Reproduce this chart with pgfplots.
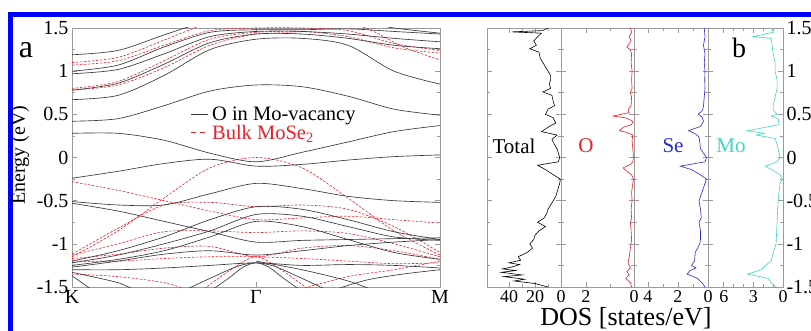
\documentclass[border=0pt]{standalone}
\usepackage{pgfplots}
\pgfplotsset{compat=1.18}
\usepackage{fontspec}
\setmainfont{Liberation Serif}
\definecolor{bandblk}{HTML}{383838}
\definecolor{bulkred}{HTML}{E8202A}
\definecolor{seblue}{HTML}{2B2BC8}
\definecolor{mocyan}{HTML}{3FD6C4}
\definecolor{framegray}{HTML}{9A9A9A}
\begin{document}
\begin{tikzpicture}
\useasboundingbox (0pt,0pt) rectangle (811pt,-331pt);
\fill[white] (0pt,0pt) rectangle (811pt,-331pt);
\draw[blue, line width=5pt] (10.8pt,-340pt) -- (10.8pt,-14.5pt) -- (820pt,-14.5pt);
\pgfplotsset{
  myaxis/.style={
    scale only axis, height=259pt, ymin=-1.5, ymax=1.5,
    axis line style={framegray, line width=0.8pt},
    tick style={framegray, line width=0.6pt},
    tick align=inside,
    major tick length=5pt, minor tick length=3pt,
    ytick={-1.5,-1,-0.5,0,0.5,1,1.5}, minor y tick num=1,
    ticklabel style={font=\fontsize{20}{22}\selectfont},
    /pgf/number format/assume math mode=true,
  },
  dosaxis/.style={myaxis, x dir=reverse, xmin=0,
    x tick label style={font=\fontsize{18}{20}\selectfont, inner xsep=1pt}},
  bk/.style={bandblk, line width=0.65pt, smooth, forget plot},
  rd/.style={bulkred, line width=0.6pt, dash pattern=on 2.5pt off 1.5pt, smooth, forget plot},
}
% ---------------- band structure ----------------
\begin{axis}[myaxis, at={(72pt,-287pt)}, anchor=south west, width=368pt,
  xmin=0, xmax=2, xtick={0,1,2}, xticklabels={K,Γ,M},
  x tick label style={font=\fontsize{20}{22}\selectfont},
  legend style={at={(rel axis cs:0.321,0.70)}, anchor=north west, draw=none, fill=none,
    font=\fontsize{20.5}{22}\selectfont, row sep=1pt, inner sep=0pt,
    nodes={inner xsep=4pt, inner ysep=1pt}},
  legend cell align=left]
\addlegendimage{bandblk, line width=0.7pt}
\addlegendentry{O in Mo-vacancy}
\addlegendimage{bulkred, line width=0.7pt, dash pattern=on 5pt off 4pt}
\addlegendentry{\textcolor{bulkred}{Bulk MoSe\textsubscript{2}}}
% red dashed (bulk)
\addplot[rd] coordinates {(0,1.1)(0.25,1.16)(0.5,1.36)(0.7,1.53)};
\addplot[rd] coordinates {(0,1.07)(0.25,1.12)(0.5,1.3)(0.75,1.47)(1,1.5)(1.25,1.5)(1.5,1.47)(1.75,1.32)(2,1.24)};
\addplot[rd] coordinates {(0,0.8)(0.25,0.88)(0.5,1.12)(0.75,1.37)(1,1.45)(1.25,1.46)(1.5,1.4)(1.75,1.27)(2,1.21)};
\addplot[rd] coordinates {(0,0.78)(0.25,0.84)(0.5,1.04)(0.75,1.3)(1,1.43)(1.25,1.44)};
\addplot[rd] coordinates {(1.5,1.58)(1.65,1.45)(1.8,1.28)(2,1.13)};
\addplot[rd] coordinates {(0,-0.28)(0.25,-0.38)(0.5,-0.5)(0.75,-0.62)(1,-0.72)(1.25,-0.7)(1.5,-0.68)(1.75,-0.72)(2,-0.76)};
\addplot[rd] coordinates {(0,-1.15)(0.25,-0.85)(0.5,-0.47)(0.75,-0.12)(1,0.0)(1.25,-0.12)(1.5,-0.47)(1.75,-0.85)(2,-1.13)};
\addplot[rd] coordinates {(0,-1.12)(0.25,-0.82)(0.5,-0.55)(0.75,-0.52)(1,-0.57)(1.25,-0.55)(1.5,-0.6)(1.75,-0.8)(2,-1.1)};
\addplot[rd] coordinates {(0,-1.13)(0.25,-1.0)(0.5,-0.86)(0.75,-0.85)(1,-0.87)(1.25,-0.85)(1.5,-0.88)(1.75,-1.0)(2,-1.15)};
\addplot[rd] coordinates {(0,-1.17)(0.25,-1.12)(0.5,-1.05)(0.75,-1.03)(1,-1.15)(1.25,-1.05)(1.5,-1.02)(1.75,-1.08)(2,-1.18)};
\addplot[rd] coordinates {(0,-1.2)(0.25,-1.2)(0.5,-1.17)(0.75,-1.15)(1,-1.15)(1.25,-1.17)(1.5,-1.2)(1.75,-1.23)(2,-1.22)};
\addplot[rd] coordinates {(0,-1.35)(0.25,-1.38)(0.5,-1.45)(0.65,-1.55)};
\addplot[rd] coordinates {(0.7,-1.55)(0.85,-1.32)(1,-1.15)(1.15,-1.32)(1.3,-1.55)};
\addplot[rd] coordinates {(1.2,-1.55)(1.5,-1.38)(1.75,-1.3)(2,-1.2)};
% black solid (O in Mo-vacancy)
\addplot[bk] coordinates {(0,1.19)(0.25,1.24)(0.5,1.42)(0.7,1.56)};
\addplot[bk] coordinates {(1.6,1.56)(1.75,1.5)(2,1.44)};
\addplot[bk] coordinates {(0,1.0)(0.25,1.07)(0.5,1.28)(0.75,1.45)(1,1.48)(1.25,1.48)(1.5,1.49)(1.75,1.46)(2,1.43)};
\addplot[bk] coordinates {(0,0.97)(0.25,1.02)(0.5,1.2)(0.75,1.4)(1,1.46)(1.25,1.46)(1.5,1.43)(1.75,1.38)(2,1.34)};
\addplot[bk] coordinates {(0,0.78)(0.25,0.86)(0.5,1.08)(0.75,1.33)(1,1.43)(1.25,1.43)(1.5,1.38)(1.75,1.3)(2,1.26)};
\addplot[bk] coordinates {(0,0.67)(0.25,0.72)(0.5,0.95)(0.75,1.25)(1,1.37)(1.25,1.38)(1.5,1.3)(1.75,1.0)(2,0.85)};
\addplot[bk] coordinates {(0,0.42)(0.25,0.45)(0.5,0.6)(0.75,0.77)(1,0.84)(1.25,0.82)(1.5,0.71)(1.75,0.56)(2,0.49)};
\addplot[bk] coordinates {(0,0.28)(0.25,0.28)(0.5,0.2)(0.75,0.05)(1,-0.05)(1.25,0.06)(1.5,0.18)(1.75,0.3)(2,0.37)};
\addplot[bk] coordinates {(0,-0.24)(0.25,-0.16)(0.5,-0.07)(0.75,-0.02)(1,-0.1)(1.25,-0.08)(1.5,-0.03)(1.75,0.01)(2,0.03)};
\addplot[bk] coordinates {(0,-0.51)(0.25,-0.55)(0.5,-0.55)(0.75,-0.42)(1,-0.3)(1.25,-0.36)(1.5,-0.45)(1.75,-0.5)(2,-0.52)};
\addplot[bk] coordinates {(0,-0.53)(0.25,-0.62)(0.5,-0.74)(0.75,-0.86)(1,-0.98)(1.25,-0.96)(1.5,-0.95)(1.75,-0.94)(2,-0.93)};
\addplot[bk] coordinates {(0,-1.2)(0.25,-1.08)(0.5,-0.92)(0.75,-0.72)(1,-0.57)(1.25,-0.6)(1.5,-0.72)(1.75,-0.86)(2,-0.95)};
\addplot[bk] coordinates {(0,-1.22)(0.25,-1.13)(0.5,-1.0)(0.75,-0.85)(1,-0.66)(1.25,-0.68)(1.5,-0.8)(1.75,-0.92)(2,-0.96)};
\addplot[bk] coordinates {(0,-1.25)(0.25,-1.18)(0.5,-1.08)(0.75,-0.92)(1,-0.74)(1.25,-0.8)(1.5,-0.95)(1.75,-1.1)(2,-1.18)};
\addplot[bk] coordinates {(0,-1.27)(0.25,-1.2)(0.5,-1.12)(0.75,-1.08)(1,-1.13)(1.25,-1.08)(1.5,-1.02)(1.75,-0.98)(2,-0.95)};
\addplot[bk] coordinates {(0,-1.3)(0.25,-1.3)(0.5,-1.28)(0.75,-1.25)(1,-1.22)(1.25,-1.25)(1.5,-1.24)(1.75,-1.25)(2,-1.28)};
\addplot[bk] coordinates {(0,-1.33)(0.25,-1.45)(0.35,-1.55)};
\addplot[bk] coordinates {(0,-1.37)(0.12,-1.55)};
\addplot[bk] coordinates {(0.75,-1.55)(0.85,-1.4)(0.93,-1.27)(1,-1.22)(1.07,-1.27)(1.15,-1.4)(1.25,-1.55)};
\addplot[bk] coordinates {(0.6,-1.55)(0.75,-1.4)(0.9,-1.26)(1,-1.22)(1.1,-1.26)(1.25,-1.4)(1.4,-1.55)};
\addplot[bk] coordinates {(1,-1.2)(1.25,-1.3)(1.5,-1.43)(1.65,-1.55)};
\addplot[bk] coordinates {(1.4,-1.55)(1.6,-1.42)(1.8,-1.35)(2,-1.3)};
\end{axis}
% ---------------- DOS: Total ----------------
\begin{axis}[dosaxis, at={(487pt,-287pt)}, anchor=south west, width=74pt,
  xmax=57, xtick={0,20,40}, minor x tick num=1, yticklabels={}]
\addplot[black, line width=0.6pt] coordinates {
(10,1.50) (14,1.47) (38,1.455) (15,1.44) (18,1.40) (21,1.35) (19,1.30) (24,1.26) (17,1.22)
(16,1.15) (14,1.10) (12,1.05) (10,1.00) (8,0.95) (8,0.90) (9,0.85) (8,0.80) (14,0.76) (7,0.72)
(6,0.65) (5,0.60) (10,0.56) (12,0.50) (6,0.46) (4,0.40) (9,0.36) (15,0.30) (3,0.26) (7,0.21)
(5,0.15) (3,0.10) (2,0.05) (1,0.00) (2,-0.05) (18,-0.09) (12,-0.14) (7,-0.19) (0.5,-0.25)
(1,-0.30) (2,-0.35) (3,-0.40) (4,-0.45) (6,-0.50) (8,-0.55) (10,-0.60) (11,-0.65) (13,-0.70)
(18,-0.75) (12,-0.80) (17,-0.85) (20,-0.90) (21,-0.95) (24,-1.00) (22,-1.05) (26,-1.10)
(33,-1.15) (31,-1.19) (40,-1.22) (32,-1.24) (38,-1.27) (45,-1.29) (35,-1.31) (46,-1.33)
(30,-1.36) (44,-1.38) (28,-1.41) (36,-1.43) (20,-1.46) (10,-1.50)};
\end{axis}
% ---------------- DOS: O ----------------
\begin{axis}[dosaxis, at={(561pt,-287pt)}, anchor=south west, width=73pt,
  xmax=3.04, xtick={0,2}, minor x tick num=1, yticklabels={}]
\addplot[bulkred, line width=0.6pt] coordinates {
(0.15,1.5)(0.1,1.45)(0.2,1.4)(0.12,1.35)(0.3,1.28)(0.15,1.25)(0.1,1.2)(0.12,1.1)(0.08,1.0)
(0.1,0.9)(0.08,0.8)(0.15,0.75)(0.1,0.7)(0.12,0.6)(0.25,0.55)(0.2,0.52)(0.87,0.48)(0.35,0.46)
(0.05,0.42)(0.1,0.38)(0.45,0.35)(0.6,0.31)(0.3,0.29)(0.05,0.26)(0.08,0.2)(0.05,0.1)(0.02,0.0)
(0.05,-0.05)(0.15,-0.08)(0.45,-0.12)(0.3,-0.16)(0.1,-0.2)(0.02,-0.25)(0.05,-0.3)(0.1,-0.4)
(0.08,-0.5)(0.12,-0.6)(0.1,-0.7)(0.15,-0.75)(0.12,-0.85)(0.1,-0.95)(0.15,-1.05)(0.2,-1.15)
(0.25,-1.22)(0.15,-1.28)(0.3,-1.32)(0.2,-1.36)(0.35,-1.4)(0.15,-1.45)(0.1,-1.5)};
\end{axis}
% ---------------- DOS: Se ----------------
\begin{axis}[dosaxis, at={(634pt,-287pt)}, anchor=south west, width=74pt,
  xmax=4.93, xtick={0,2,4}, minor x tick num=1, yticklabels={}]
\addplot[seblue, line width=0.6pt] coordinates {
(0.25,1.5)(0.2,1.4)(0.3,1.3)(0.2,1.2)(0.25,1.1)(0.2,1.0)(0.22,0.9)(0.2,0.8)(0.25,0.7)(0.3,0.6)
(0.35,0.55)(0.65,0.5)(0.4,0.47)(0.3,0.42)(0.5,0.36)(1.3,0.31)(0.9,0.28)(0.6,0.24)(0.55,0.18)
(0.5,0.1)(0.3,0.05)(0.1,0.0)(0.2,-0.05)(1.85,-0.1)(1.1,-0.14)(0.6,-0.19)(0.1,-0.25)(0.2,-0.3)
(0.4,-0.4)(0.6,-0.5)(0.5,-0.6)(0.45,-0.7)(0.6,-0.75)(0.5,-0.85)(0.5,-0.95)(0.55,-1.0)
(0.85,-1.1)(0.9,-1.2)(1.1,-1.25)(0.8,-1.28)(1.2,-1.31)(1.4,-1.35)(0.7,-1.4)(0.4,-1.45)(0.2,-1.5)};
\end{axis}
% ---------------- DOS: Mo ----------------
\begin{axis}[dosaxis, at={(708pt,-287pt)}, anchor=south west, width=75pt,
  xmax=7.6, xtick={0,3,6}, minor x tick num=2, yticklabel pos=right]
\addplot[mocyan, line width=0.6pt] coordinates {
(1.2,1.5)(1.0,1.45)(3.0,1.4)(1.2,1.38)(1.1,1.3)(1.0,1.2)(0.8,1.1)(0.8,1.0)(0.6,0.9)(0.6,0.8)
(0.8,0.7)(1.0,0.6)(1.0,0.55)(0.6,0.5)(1.2,0.48)(0.5,0.45)(0.4,0.38)(3.6,0.31)(1.9,0.28)(2.7,0.26)
(0.8,0.22)(0.6,0.15)(0.5,0.1)(0.3,0.0)(0.6,-0.05)(1.8,-0.1)(1.0,-0.15)(0.3,-0.2)(0.07,-0.25)
(0.3,-0.3)(0.5,-0.5)(0.6,-0.75)(0.7,-1.0)(1.0,-1.1)(1.2,-1.2)(1.8,-1.25)(2.2,-1.3)(3.6,-1.35)
(1.5,-1.4)(1.2,-1.45)(0.7,-1.5)};
\end{axis}
% ---------------- labels ----------------
\node[font=\fontsize{21}{23}\selectfont] at (514pt,-146pt) {Total};
\node[font=\fontsize{21}{23}\selectfont, text=bulkred] at (586pt,-146pt) {O};
\node[font=\fontsize{21}{23}\selectfont, text=seblue] at (673pt,-146pt) {Se};
\node[font=\fontsize{21}{23}\selectfont, text=mocyan] at (731pt,-146pt) {Mo};
\node[font=\fontsize{26}{28}\selectfont] at (626pt,-318pt) {DOS [states/eV]};
\node[font=\fontsize{32}{34}\selectfont] at (26pt,-50pt) {a};
\node[font=\fontsize{28}{30}\selectfont] at (739pt,-48pt) {b};
\node[rotate=90, font=\fontsize{20}{22}\selectfont] at (20pt,-155pt) {Energy (eV)};
\end{tikzpicture}
\end{document}
